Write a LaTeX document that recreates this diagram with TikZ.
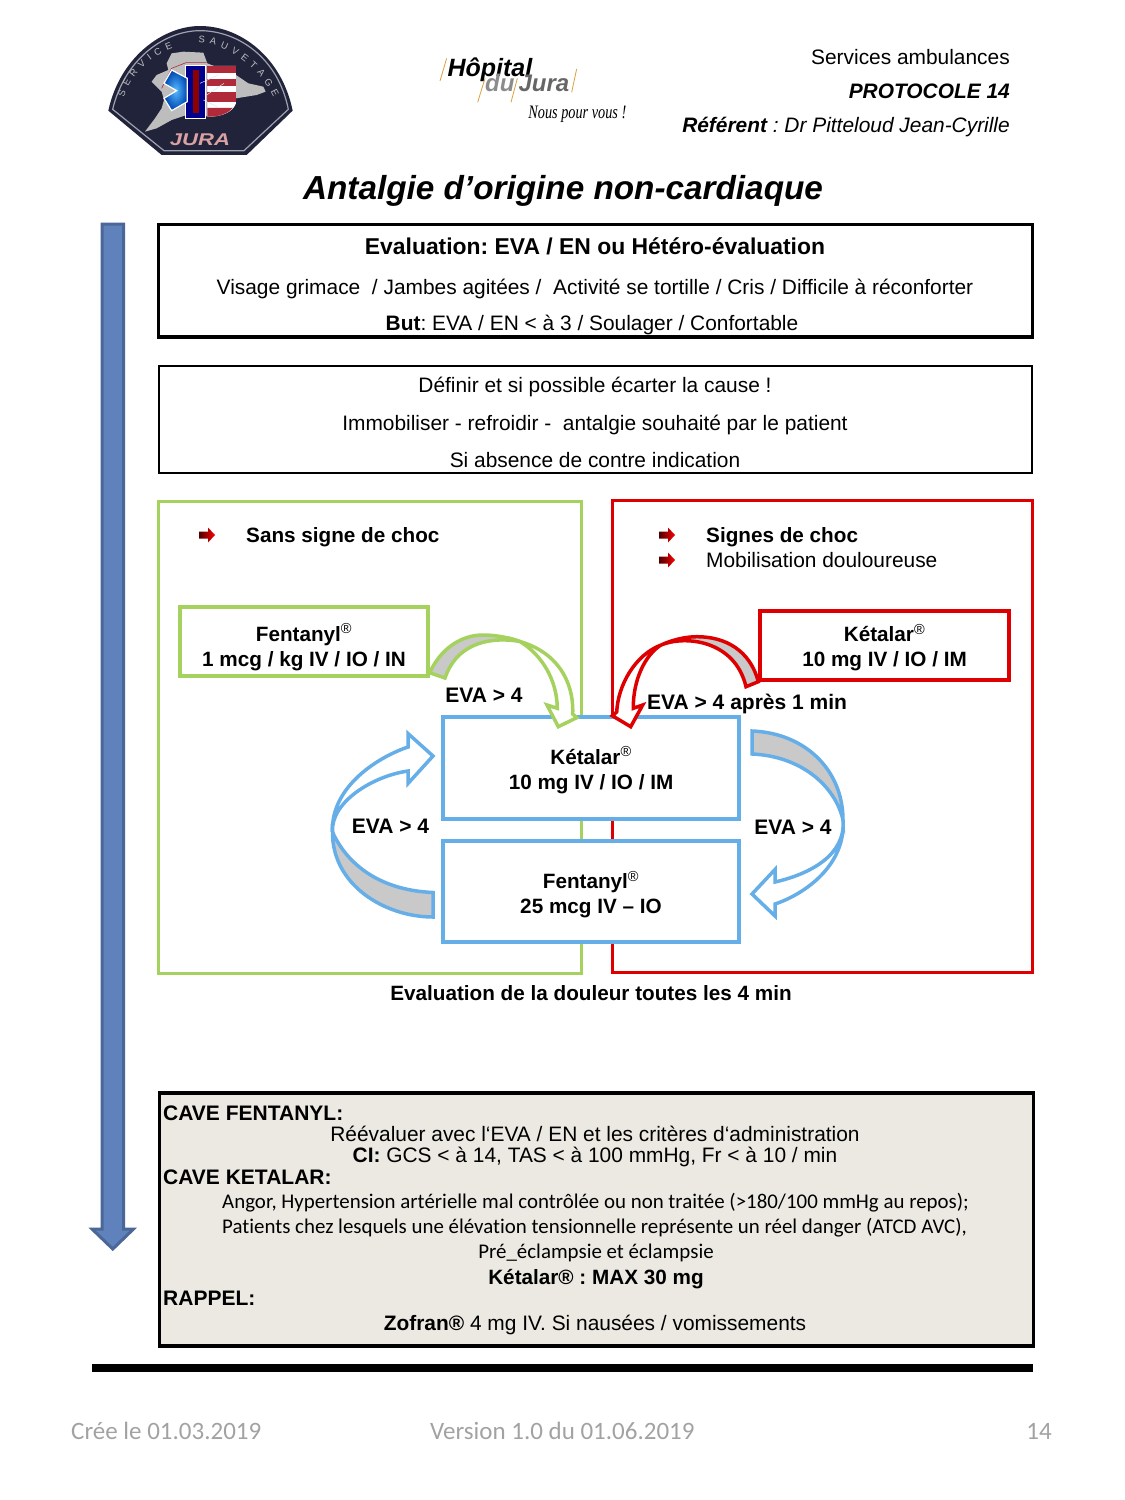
\documentclass[tikz,border=0pt]{standalone}
\usepackage{fontspec}
\setmainfont{Liberation Sans}
\newfontfamily\calibrifont[Ligatures=NoCommon]{Carlito}
\newfontfamily\handfont{Liberation Serif}
\usetikzlibrary{decorations.text}
\definecolor{greenline}{HTML}{A5D25F}
\definecolor{redline}{HTML}{DE0000}
\definecolor{blueline}{HTML}{66AEE8}
\definecolor{ribbongray}{HTML}{C9C9C9}
\definecolor{cavefill}{HTML}{EBE9E1}
\definecolor{footgray}{HTML}{A2A2A2}
\definecolor{badgeblue}{HTML}{20233A}
\definecolor{badgeline}{HTML}{9FA1AE}
\definecolor{badgemap}{HTML}{BDBDBD}
\definecolor{badgered}{HTML}{B02A3A}
\definecolor{logoslash}{HTML}{D8A040}
\definecolor{arrowfill}{HTML}{5F82BC}
\definecolor{arrowline}{HTML}{4A6798}
\newcommand{\regmark}{\textsuperscript{\normalfont ®}}
\newcommand{\topgap}[1]{\rule{0pt}{#1}}
\begin{document}
\frenchspacing
\begin{tikzpicture}[x=1pt,y=-1pt,
    txt/.style={inner sep=0pt,anchor=base,font=\fontsize{20.9}{25}\selectfont},
    txtb/.style={txt,font=\fontsize{20.7}{25}\selectfont\bfseries},
    txtl/.style={txtb,anchor=base west},
    evalabel/.style={txtb,font=\fontsize{21}{25}\selectfont\bfseries},
    cavehead/.style={txtl,font=\fontsize{21}{25}\selectfont\bfseries},
    calibri/.style={inner sep=0pt,anchor=base,font=\fontsize{20.9}{24}\selectfont\calibrifont},
    foot/.style={inner sep=0pt,font=\fontsize{25}{28}\selectfont\calibrifont,text=footgray},
    drugbox/.style={draw,fill=white,line width=3.4pt,inner sep=0pt,align=center,
        font=\fontsize{20.7}{25}\selectfont\bfseries},
    ribbon/.style={line width=3.5pt,line join=miter,fill=white},
    ribbonback/.style={line width=3.5pt,line join=miter,fill=ribbongray},
    logotxt/.style={inner sep=0pt,anchor=base west,font=\fontsize{24}{26}\selectfont\bfseries\itshape},
    puce/.pic={\shade[left color=black!70!red,right color=red]
        (-8,-3.5) -- (1,-3.5) -- (1,-7.5) -- (8,0) -- (1,7.5) -- (1,3.5) -- (-8,3.5) -- cycle;}]
    \useasboundingbox (0,0) rectangle (1125,1500);

    % arrow on the left
    \draw[line width=3pt,fill=arrowfill,draw=arrowline,line join=miter]
        (102.2,224) -- (123.5,224) -- (123.5,1229) -- (133.5,1229) -- (112.8,1249) -- (92,1229) -- (102.2,1229) -- cycle;

    % badge
    \begin{scope}[shift={(100,20)},x=0.3333pt,y=-0.3333pt]
        \fill[badgeblue] (25,272) .. controls (60,110) and (190,18) .. (300,18)
            .. controls (420,18) and (545,110) .. (578,272) -- (440,405) -- (185,405) -- cycle;
        \draw[badgeline,line width=1.2pt] (38,268) .. controls (75,115) and (195,32) .. (300,32)
            .. controls (415,32) and (535,115) .. (565,268) -- (432,392) -- (192,392) -- cycle;
        \fill[badgemap] (215,100) -- (250,95) -- (310,98) -- (322,130) -- (408,165) -- (445,190) -- (490,200)
            -- (497,215) -- (470,225) -- (408,235) -- (340,290) -- (260,285) -- (215,300) -- (170,325)
            -- (135,335) -- (165,295) -- (185,265) -- (192,240) -- (185,215) -- (155,185) -- (170,165)
            -- (205,150) -- (200,130) -- cycle;
        \draw[badgered,line width=0.6pt] (185,205) -- (215,145) -- (258,128) -- (320,128);
        \fill[white] (322,138) -- (408,138) -- (408,250) .. controls (400,275) and (365,292) .. (322,290) -- cycle;
        \foreach \striptop/\stripbot in {138/160,178/198,215/245}
            \fill[badgered] (322,\striptop) rectangle (408,\stripbot);
        \fill[badgered] (322,264) -- (398,264) .. controls (385,280) and (355,292) .. (322,290) -- cycle;
        \draw[white,line width=1pt,fill=blue!55!black] (258,137) rectangle (318,295);
        \draw[white!80!cyan,line width=0.5pt] (300,190) -- (355,165) (320,225) -- (372,190) (310,240) -- (355,262);
        \shadedraw[draw=white,line width=1.2pt,inner color=white!55!blue!60!cyan,outer color=blue!60!cyan!70!black]
            (262,175) -- (215,150) -- (192,190) -- (230,212) -- (192,235) -- (215,272) -- (262,245) -- cycle;
        \fill[red!55!black] (278,150) -- (296,150) -- (296,280) -- (278,280) -- cycle;
        \node[inner sep=0pt,anchor=base,font=\fontsize{17}{17}\selectfont\bfseries\itshape,xscale=1.3,text=red!25!white!85!black] (badgejura) at (300,378) {JURA};
        \path[decorate,decoration={text along path,text align={fit to path},
            text={|\fontsize{9.5}{9.5}\selectfont\color{badgemap}|SERVICE}}]
            (72,232) .. controls (95,160) and (150,110) .. (218,85);
        \path[decorate,decoration={text along path,text align={fit to path},
            text={|\fontsize{9.5}{9.5}\selectfont\color{badgemap}|SAUVETAGE}}]
            (295,68) .. controls (385,70) and (480,145) .. (520,232);
    \end{scope}

    % hospital logo
    \begin{scope}[shift={(430,45)},x=0.3333pt,y=-0.3333pt]
        \draw[logoslash,line width=0.8pt] (30,108) -- (50,40) (143,172) -- (165,100) (243,172) -- (262,100) (425,142) -- (440,72);
        \node[logotxt,font=\fontsize{25}{26}\selectfont\bfseries\itshape] (hopname) at (52,95) {Hôpital};
        \node[logotxt,text=black!45] (hopdu) at (165,140) {du};
        \node[logotxt,text=black!60] (hopjura) at (265,140) {Jura};
        \node[inner sep=0pt,anchor=base west,font=\fontsize{19}{20}\selectfont\handfont\itshape,xscale=0.75] (hopmotto) at (295,222) {Nous pour vous !};
    \end{scope}

    % header
    \node[txt,anchor=base east] (service) at (1010,64) {Services ambulances};
    \node[txt,anchor=base east,font=\fontsize{20.9}{25}\selectfont\bfseries\itshape] (protocole) at (1010,98) {PROTOCOLE 14};
    \node[txt,anchor=base east,font=\fontsize{20.9}{25}\selectfont\itshape] (referent) at (1010,132) {\textbf{Référent} : Dr Pitteloud Jean-Cyrille};
    \node[txt,font=\fontsize{33.3}{36}\selectfont\bfseries\itshape] (titre) at (563,199) {Antalgie d’origine non-cardiaque};

    % evaluation
    \draw[line width=3.5pt] (158.7,224.5) rectangle (1032.5,337);
    \node[txtb,font=\fontsize{22.9}{25}\selectfont\bfseries] (eval1) at (595,254) {Evaluation: EVA / EN ou Hétéro-évaluation};
    \node[txt] (eval2) at (595,294) {Visage grimace~ / Jambes agitées /~ Activité se tortille / Cris / Difficile à réconforter};
    \node[txt] (eval3) at (592,330) {\textbf{But}: EVA / EN < à 3 / Soulager / Confortable};

    \draw[line width=2pt] (158.5,366) rectangle (1032,473);
    \node[txt] (cause1) at (595,392) {Définir et si possible écarter la cause !};
    \node[txt] (cause2) at (595,430) {Immobiliser - refroidir -~ antalgie souhaité par le patient};
    \node[txt] (cause3) at (595,467) {Si absence de contre indication};

    % two columns
    \draw[greenline,line width=3pt] (158.5,501) rectangle (581,973);
    \draw[redline,line width=3pt] (612,500) rectangle (1032,972);
    \pic at (207,535) {puce};
    \pic at (667,535) {puce};
    \pic at (667,560) {puce};
    \node[txtl] (sans) at (246,542) {Sans signe de choc};
    \node[txtl] (signes) at (706,542) {Signes de choc};
    \node[txt,anchor=base west] (mobil) at (706,567) {Mobilisation douloureuse};

    \node[drugbox,draw=greenline,minimum width=248pt,minimum height=69pt] (fentvert) at (304,641.5) {\topgap{29pt}Fentanyl\regmark\\1 mcg / kg IV / IO / IN};
    \node[drugbox,draw=redline,minimum width=249pt,minimum height=69pt] (ketarouge) at (884.5,645.5) {\topgap{22pt}Kétalar\regmark\\10 mg IV / IO / IM};
    \node[drugbox,draw=blueline,minimum width=296pt,minimum height=102pt] (ketableu) at (591,768) {\topgap{22pt}Kétalar\regmark\\10 mg IV / IO / IM};
    \node[drugbox,draw=blueline,minimum width=296pt,minimum height=101pt] (fentbleu) at (591,891.5) {\topgap{24pt}Fentanyl\regmark\\25 mcg IV – IO};

    % green ribbon
    \coordinate (vt1) at ([yshift=5pt]fentvert.south east);
    \coordinate (vt2) at (445,678);
    \coordinate (vapex) at (483,635);
    \coordinate (vmerge) at (520,641.5);
    \draw[greenline,ribbonback] (vt1) .. controls (440,650) and (460,635) .. (vapex)
        .. controls (497,635) and (510,638) .. (vmerge)
        .. controls (495,637) and (458,640) .. (vt2) -- cycle;
    \draw[greenline,ribbon] (vmerge) .. controls (556,652) and (574,680) .. (572.7,714) -- (576.7,717.7) -- (558.3,726.7) -- (547,705) -- (557.3,708.3)
        .. controls (557,680) and (542,655) .. (vmerge) -- cycle;

    % red ribbon
    \coordinate (rt1) at (ketarouge.south west);
    \coordinate (rt2) at (746,686.7);
    \coordinate (rapex) at (697,636.7);
    \coordinate (rmerge) at (661,645);
    \draw[redline,ribbonback] (rt1) .. controls (750,650) and (725,636.7) .. (rapex)
        .. controls (685,636.7) and (672,640) .. (rmerge)
        .. controls (685,635) and (735,640) .. (rt2) -- cycle;
    \draw[redline,ribbon] (rmerge) .. controls (635,655) and (618,685) .. (616.7,712) -- (612.3,715.7) -- (630.7,726.7) -- (642.7,705) -- (633.3,708.3)
        .. controls (633,680) and (645,655) .. (rmerge) -- cycle;

    % blue ribbon, left
    \coordinate (lmid) at (332.5,832);
    \draw[blueline,ribbonback] (433,917) .. controls (385,917) and (332,885) .. (lmid)
        .. controls (345,860) and (375,890) .. (433,892.5) -- cycle;
    \draw[blueline,ribbon] (lmid) .. controls +(-2,-45) and +(-30,10) .. (408,747) -- (408,733.5) -- (433,756) -- (408,783.5) -- (408,771)
        .. controls +(-35,5) and +(-2,-30) .. (lmid) -- cycle;

    % blue ribbon, right
    \coordinate (rmid) at (843,820);
    \draw[blueline,ribbonback] (752,731) .. controls (805,733) and (843,770) .. (rmid)
        .. controls (835,785) and (800,756) .. (752,754) -- cycle;
    \draw[blueline,ribbon] (rmid) .. controls +(3,45) and +(30,-10) .. (775,904) -- (775,916) -- (752,894) -- (775,869.5) -- (775,882)
        .. controls +(35,-8) and +(3,35) .. (rmid) -- cycle;

    % labels of the ribbons
    \node[evalabel] (evavert) at (484,702) {EVA > 4};
    \node[evalabel,anchor=base west] (evarouge) at (647,709) {EVA > 4 après 1 min};
    \node[evalabel] (evagauche) at (390.5,833) {EVA > 4};
    \node[evalabel] (evadroite) at (793,834) {EVA > 4};
    \node[txtb] (douleur) at (591,1000) {Evaluation de la douleur toutes les 4 min};

    % cave
    \draw[line width=3.5pt,fill=cavefill] (159.5,1093) rectangle (1033.5,1346);
    \node[cavehead] (cavef) at (163,1120) {CAVE FENTANYL:};
    \node[txt] (cave1) at (595,1141) {Réévaluer avec l‘EVA / EN et les critères d‘administration};
    \node[txt] (cave2) at (595,1162) {\textbf{CI:} GCS < à 14, TAS < à 100 mmHg, Fr < à 10 / min};
    \node[cavehead] (cavek) at (163,1184) {CAVE KETALAR:};
    \node[calibri,anchor=base west] (cave3) at (222,1208) {Angor, Hypertension artérielle mal contrôlée ou non traitée (>180/100 mmHg au repos);};
    \node[calibri,anchor=base west] (cave4) at (222,1233) {Patients chez lesquels une élévation tensionnelle représente un réel danger (ATCD AVC),};
    \node[calibri] (cave5) at (596,1258) {Pré\_éclampsie et éclampsie};
    \node[txtb] (cave6) at (596,1284) {Kétalar® : MAX 30 mg};
    \node[cavehead] (rappel) at (163,1305) {RAPPEL:};
    \node[txt] (cave7) at (595,1330) {\textbf{Zofran®} 4 mg IV. Si nausées / vomissements};

    \fill (92,1364) rectangle (1033,1372);

    % footer
    \node[foot,anchor=base west] (cree) at (71,1439) {Crée le 01.03.2019};
    \node[foot,anchor=base west] (version) at (430,1439) {Version 1.0 du 01.06.2019};
    \node[foot,anchor=base east] (numero) at (1052,1439) {14};
\end{tikzpicture}
\end{document}
